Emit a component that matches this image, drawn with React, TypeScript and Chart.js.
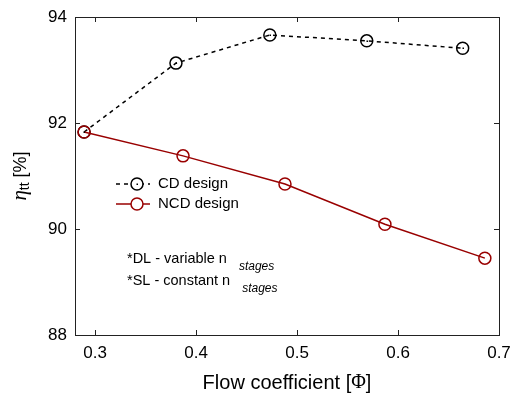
import React, { useEffect, useRef } from "react";
import { Chart, registerables } from "chart.js";

Chart.register(...registerables);

const cdX = [0.289, 0.380, 0.473, 0.569, 0.664];
const cdY = [91.83, 93.13, 93.66, 93.55, 93.41];
const ncdX = [0.289, 0.387, 0.488, 0.587, 0.686];
const ncdY = [91.83, 91.38, 90.85, 90.09, 89.45];
const xTicks = [0.3, 0.4, 0.5, 0.6, 0.7];
const yTicks = [88, 90, 92, 94];
const legendLabels = ["CD design", "NCD design"];
const notes = [
  ["*DL - variable n", "stages"],
  ["*SL - constant n", "stages"],
];
const xTitle = ["Flow coefficient [", "Φ", "]"];
const yTitle = ["η", "tt", " [%]"];

const RED = "#990000";
const SANS = "'Liberation Sans', Arial, sans-serif";
const SERIF = "'Liberation Serif', 'Times New Roman', serif";

const framePlugin = {
  id: "frame",
  afterDatasetsDraw(chart: any) {
    const { ctx, chartArea: a, scales } = chart;
    const xs = scales.x;
    const ys = scales.y;
    ctx.save();
    // center dots for CD markers
    const meta = chart.getDatasetMeta(1);
    ctx.fillStyle = "#000";
    meta.data.forEach((p: any) => {
      ctx.fillRect(Math.round(p.x) - 0.5, Math.round(p.y) - 0.5, 1.5, 1.5);
    });
    // frame
    ctx.strokeStyle = "#222";
    ctx.lineWidth = 1;
    ctx.strokeRect(a.left + 0.5, a.top + 0.5, a.right - a.left, a.bottom - a.top);
    const tl = 5;
    ctx.beginPath();
    xTicks.forEach((v) => {
      const px = Math.round(xs.getPixelForValue(v)) + 0.5;
      ctx.moveTo(px, a.bottom);
      ctx.lineTo(px, a.bottom - tl);
      ctx.moveTo(px, a.top);
      ctx.lineTo(px, a.top + tl);
    });
    yTicks.forEach((v) => {
      const py = Math.round(ys.getPixelForValue(v)) + 0.5;
      ctx.moveTo(a.left, py);
      ctx.lineTo(a.left + tl, py);
      ctx.moveTo(a.right, py);
      ctx.lineTo(a.right - tl, py);
    });
    ctx.stroke();

    // legend
    const lx0 = 116, lx1 = 150, cx = 137, tx = 158;
    const rows = [184, 204];
    ctx.lineWidth = 1.5;
    // CD
    ctx.strokeStyle = "#000";
    ctx.setLineDash([4, 4]);
    ctx.beginPath();
    ctx.moveTo(lx0, rows[0]);
    ctx.lineTo(lx1, rows[0]);
    ctx.stroke();
    ctx.setLineDash([]);
    ctx.fillStyle = "#fff";
    ctx.beginPath();
    ctx.arc(cx, rows[0], 6, 0, Math.PI * 2);
    ctx.fill();
    ctx.stroke();
    ctx.fillStyle = "#000";
    ctx.fillRect(cx - 0.5, rows[0] - 0.5, 1.5, 1.5);
    // NCD
    ctx.strokeStyle = RED;
    ctx.beginPath();
    ctx.moveTo(lx0, rows[1]);
    ctx.lineTo(lx1, rows[1]);
    ctx.stroke();
    ctx.fillStyle = "#fff";
    ctx.beginPath();
    ctx.arc(cx, rows[1], 6, 0, Math.PI * 2);
    ctx.fill();
    ctx.stroke();
    ctx.fillStyle = "#000";
    ctx.font = `15px ${SANS}`;
    ctx.textBaseline = "middle";
    ctx.textAlign = "left";
    ctx.fillText(legendLabels[0], tx, rows[0]);
    ctx.fillText(legendLabels[1], tx, rows[1]);

    // notes
    const ny = [259, 281];
    notes.forEach((n, i) => {
      ctx.font = `14.5px ${SANS}`;
      ctx.fillText(n[0], 127, ny[i]);
      const w = ctx.measureText(n[0]).width;
      ctx.font = `italic 12px ${SANS}`;
      ctx.fillText(n[1], 127 + w + 12, ny[i] + 8);
    });

    // x title
    const fx = `20px ${SANS}`;
    const fphi = `20px ${SERIF}`;
    ctx.font = fx;
    const w0 = ctx.measureText(xTitle[0]).width;
    ctx.font = fphi;
    const w1 = ctx.measureText(xTitle[1]).width;
    ctx.font = fx;
    const w2 = ctx.measureText(xTitle[2]).width;
    let x = 287 - (w0 + w1 + w2) / 2;
    const yb = 383;
    ctx.fillText(xTitle[0], x, yb);
    x += w0;
    ctx.font = fphi;
    ctx.fillText(xTitle[1], x, yb);
    x += w1;
    ctx.font = fx;
    ctx.fillText(xTitle[2], x, yb);

    // y title (rotated)
    ctx.translate(21, 176);
    ctx.rotate(-Math.PI / 2);
    const fe = `italic 21px ${SERIF}`;
    const fs = `14px ${SANS}`;
    const fp = `18px ${SANS}`;
    ctx.font = fe;
    const e0 = ctx.measureText(yTitle[0]).width;
    ctx.font = fs;
    const e1 = ctx.measureText(yTitle[1]).width;
    ctx.font = fp;
    const e2 = ctx.measureText(yTitle[2]).width;
    let yx = -(e0 + e1 + e2) / 2;
    ctx.font = fe;
    ctx.fillText(yTitle[0], yx, -1);
    yx += e0;
    ctx.font = fs;
    ctx.fillText(yTitle[1], yx, 4);
    yx += e1;
    ctx.font = fp;
    ctx.fillText(yTitle[2], yx, 0);
    ctx.restore();
  },
};

export default function App() {
  const ref = useRef<HTMLCanvasElement>(null);
  useEffect(() => {
    if (!ref.current) return;
    const chart = new Chart(ref.current, {
      type: "line",
      data: {
        datasets: [
          {
            label: legendLabels[1],
            data: ncdX.map((v, i) => ({ x: v, y: ncdY[i] })),
            borderColor: RED,
            borderWidth: 1.5,
            pointRadius: 6,
            pointBorderWidth: 1.5,
            pointBorderColor: RED,
            pointBackgroundColor: "rgba(0,0,0,0)",
            order: 0,
          },
          {
            label: legendLabels[0],
            data: cdX.map((v, i) => ({ x: v, y: cdY[i] })),
            borderColor: "#000",
            borderDash: [4, 4],
            borderWidth: 1.5,
            pointRadius: 6,
            pointBorderWidth: 1.5,
            pointBorderColor: "#000",
            pointBackgroundColor: "rgba(0,0,0,0)",
            order: 1,
          },
        ],
      },
      options: {
        animation: false,
        responsive: false,
        layout: { padding: { left: 0, top: 17, right: 15, bottom: 0 } },
        plugins: { legend: { display: false }, tooltip: { enabled: false } },
        scales: {
          x: {
            type: "linear",
            min: 0.28,
            max: 0.7,
            afterBuildTicks: (s: any) => {
              s.ticks = xTicks.map((v) => ({ value: v }));
            },
            afterFit: (s: any) => {
              s.height = 60;
              s.paddingLeft = 0;
              s.paddingRight = 0;
            },
            grid: { display: false, drawTicks: false },
            border: { display: false },
            ticks: {
              padding: 8,
              color: "#000",
              font: { size: 17, family: SANS },
              callback: (v: any) => Number(v).toFixed(1),
            },
          },
          y: {
            type: "linear",
            min: 88,
            max: 94,
            afterBuildTicks: (s: any) => {
              s.ticks = yTicks.map((v) => ({ value: v }));
            },
            afterFit: (s: any) => {
              s.width = 75;
              s.paddingTop = 0;
              s.paddingBottom = 0;
            },
            grid: { display: false, drawTicks: false },
            border: { display: false },
            ticks: {
              padding: 8,
              color: "#000",
              font: { size: 17, family: SANS },
            },
          },
        },
      },
      plugins: [framePlugin],
    });
    return () => chart.destroy();
  }, []);
  return (
    <div style={{ position: "absolute", left: 0, top: 0, width: 514, height: 395, background: "#fff" }}>
      <canvas ref={ref} width={514} height={395} style={{ width: 514, height: 395 }} />
    </div>
  );
}
